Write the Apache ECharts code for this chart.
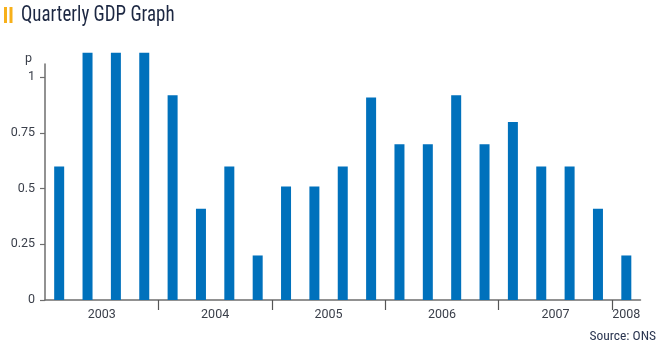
<!DOCTYPE html>
<html>
<head>
<meta charset="utf-8">
<script src="https://cdn.jsdelivr.net/npm/echarts@6/dist/echarts.min.js"></script>
<style>
  html, body { margin: 0; padding: 0; background: #ffffff; }
  #chart { width: 667px; height: 356px; }
</style>
</head>
<body>
<div id="chart"></div>
<script>
// ---- data ----
const quarters = [
  '2003 Q1','2003 Q2','2003 Q3','2003 Q4',
  '2004 Q1','2004 Q2','2004 Q3','2004 Q4',
  '2005 Q1','2005 Q2','2005 Q3','2005 Q4',
  '2006 Q1','2006 Q2','2006 Q3','2006 Q4',
  '2007 Q1','2007 Q2','2007 Q3','2007 Q4',
  '2008 Q1'
];
const growth = [
  0.6, 1.11, 1.11, 1.11,
  0.92, 0.41, 0.6, 0.2,
  0.51, 0.51, 0.6, 0.91,
  0.7, 0.7, 0.92, 0.7,
  0.8, 0.6, 0.6, 0.41,
  0.2
];
const years = ['2003', '2004', '2005', '2006', '2007', '2008'];
const yearLabelPos = [2, 6, 10, 14, 18, 20.5];   // in quarter units
const yearTickPos = [4, 8, 12, 16, 20];
const yTicks = [0, 0.25, 0.5, 0.75, 1];
const yTickLabels = ['0', '0.25', '0.5', '0.75', '1'];

const titleText = 'Quarterly GDP Graph';
const sourceText = 'Source: ONS';
const unitText = 'p';

const chart = echarts.init(document.getElementById('chart'), null, { renderer: 'canvas' });

const labelColor = '#3a3f4a';
const axisColor = '#6e6e6e';
const labelFont = 'Roboto, "Liberation Sans", sans-serif';

chart.setOption({
  animation: false,
  backgroundColor: '#ffffff',
  graphic: [
    { type: 'rect', shape: { x: 4, y: 7, width: 3, height: 16 }, style: { fill: '#f7b01a' } },
    { type: 'rect', shape: { x: 9.5, y: 7, width: 3, height: 16 }, style: { fill: '#f7b01a' } },
    {
      type: 'text', x: 21, y: 4, scaleX: 0.86,
      style: {
        text: titleText,
        x: 0, y: 0,
        verticalAlign: 'top',
        font: '22px "Roboto Condensed", Roboto, sans-serif',
        fill: '#1c2742'
      }
    },
    {
      type: 'text', right: 11, top: 330,
      style: {
        text: sourceText,
        font: '13.5px "Roboto Condensed", Roboto, sans-serif',
        fill: '#2a3550'
      }
    }
  ],
  grid: { left: 45, right: 26.5, top: 64, bottom: 56, containLabel: false },
  xAxis: [
    {
      type: 'category',
      data: quarters,
      boundaryGap: true,
      axisLine: { show: true, lineStyle: { color: axisColor, width: 1.5 } },
      axisTick: { show: false },
      axisLabel: { show: false },
      splitLine: { show: false }
    },
    {
      type: 'value',
      position: 'bottom',
      min: 0,
      max: quarters.length,
      axisLine: { show: false },
      splitLine: { show: false },
      axisTick: {
        show: true,
        customValues: yearTickPos,
        length: 10,
        lineStyle: { color: '#555555', width: 1.2 }
      },
      axisLabel: {
        customValues: yearLabelPos,
        margin: 8,
        fontFamily: labelFont,
        fontSize: 12.5,
        color: labelColor,
        formatter: function (v) {
          const i = yearLabelPos.indexOf(v);
          return i >= 0 ? years[i] : '';
        }
      }
    }
  ],
  yAxis: {
    type: 'value',
    min: 0,
    max: 1.06,
    name: unitText,
    nameLocation: 'end',
    nameGap: -1,
    nameTextStyle: {
      align: 'right',
      verticalAlign: 'bottom',
      padding: [0, 13, 0, 0],
      fontFamily: labelFont,
      fontSize: 12.5,
      color: labelColor
    },
    axisLine: { show: true, lineStyle: { color: axisColor, width: 1.5 } },
    axisTick: {
      show: true,
      customValues: yTicks,
      length: 5,
      lineStyle: { color: axisColor, width: 1.2 }
    },
    axisLabel: {
      customValues: yTicks,
      margin: 10,
      fontFamily: labelFont,
      fontSize: 12.5,
      color: labelColor,
      formatter: function (v) {
        const i = yTicks.indexOf(v);
        return i >= 0 ? yTickLabels[i] : '';
      }
    },
    splitLine: { show: false }
  },
  series: [
    {
      type: 'bar',
      xAxisIndex: 0,
      yAxisIndex: 0,
      data: growth,
      barWidth: 10,
      clip: false,
      itemStyle: { color: '#0071bc' }
    }
  ]
});
</script>
</body>
</html>
